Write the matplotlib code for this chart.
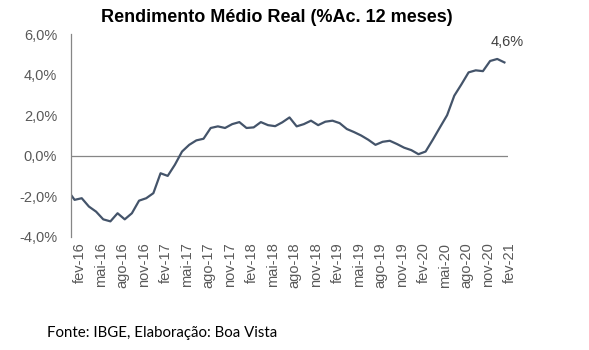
import matplotlib
matplotlib.use("Agg")
import matplotlib.pyplot as plt
import matplotlib.transforms as mtransforms
import numpy as np

# Monthly series jan-16 .. fev-21 (jan-16 only partially visible, clipped at axis)
values = [
    -1.68,                                                                 # jan-16
    -2.17, -2.09, -2.50, -2.75, -3.13, -3.23, -2.83, -3.13, -2.83, -2.21, -2.09,  # fev-dez 16
    -1.84, -0.86, -0.99, -0.44, 0.21, 0.54, 0.76, 0.84, 1.37, 1.45, 1.37, 1.56,   # 17
    1.66, 1.37, 1.40, 1.66, 1.51, 1.46, 1.65, 1.89, 1.45, 1.56, 1.73, 1.51,       # 18
    1.68, 1.73, 1.61, 1.32, 1.17, 1.00, 0.79, 0.54, 0.69, 0.74, 0.58, 0.40,       # 19
    0.28, 0.08, 0.21, 0.79, 1.40, 2.00, 2.96, 3.52, 4.11, 4.21, 4.17, 4.67,       # 20
    4.77, 4.60,                                                                   # jan-21, fev-21
]
tick_labels = ["fev-16", "mai-16", "ago-16", "nov-16", "fev-17", "mai-17", "ago-17",
               "nov-17", "fev-18", "mai-18", "ago-18", "nov-18", "fev-19", "mai-19",
               "ago-19", "nov-19", "fev-20", "mai-20", "ago-20", "nov-20", "fev-21"]
y_ticks = [-4, -2, 0, 2, 4, 6]
title = "Rendimento Médio Real (%Ac. 12 meses)"
source = "Fonte: IBGE, Elaboração: Boa Vista"
last_label = "4,6%"

x = np.arange(len(values)) - 1  # jan-16 at -1, fev-16 at 0

fig = plt.figure(figsize=(5.89, 3.5), dpi=100)
ax = fig.add_axes([71 / 589, 1 - 237 / 350, (508 - 71) / 589, (237 - 34) / 350])

ax.plot(x, values, color="#44546A", lw=1.6, solid_joinstyle="round")
ax.set_xlim(-0.5, 60.5)
ax.set_ylim(-4, 6)
ax.axhline(0, color="#868686", lw=0.9, zorder=1)

for s in ["top", "right", "bottom"]:
    ax.spines[s].set_visible(False)
ax.spines["left"].set_color("#868686")
ax.spines["left"].set_linewidth(0.9)

ax.set_yticks(y_ticks)
ax.set_yticklabels([f"{v:.1f}%".replace(".", ",") for v in y_ticks],
                   fontsize=10.5, color="#595959", family="Liberation Sans")
ax.tick_params(axis="y", length=0, pad=10)

ax.set_xticks(np.arange(0, 61, 3))
ax.set_xticklabels(tick_labels, rotation=90, fontsize=10.5,
                   color="#595959", family="Liberation Sans")
ax.tick_params(axis="x", length=0, pad=4)
shift = mtransforms.ScaledTranslation(5 / 100, 0, fig.dpi_scale_trans)
for lbl in ax.get_xticklabels():
    lbl.set_transform(lbl.get_transform() + shift)

ax.annotate(last_label, xy=(x[-1], values[-1]), xytext=(2, 10), textcoords="offset points",
            ha="center", va="bottom", fontsize=10.5, color="#404040", family="Liberation Sans")

fig.text(277 / 589, 1 - 17 / 350, title, ha="center", va="center",
         fontsize=13, fontweight="bold", family="Liberation Sans", color="black")
fig.text(47 / 589, 1 - 333 / 350, source, ha="left", va="center",
         fontsize=10.8, family="Lato", color="black")

fig.savefig("out.png", dpi=100)
